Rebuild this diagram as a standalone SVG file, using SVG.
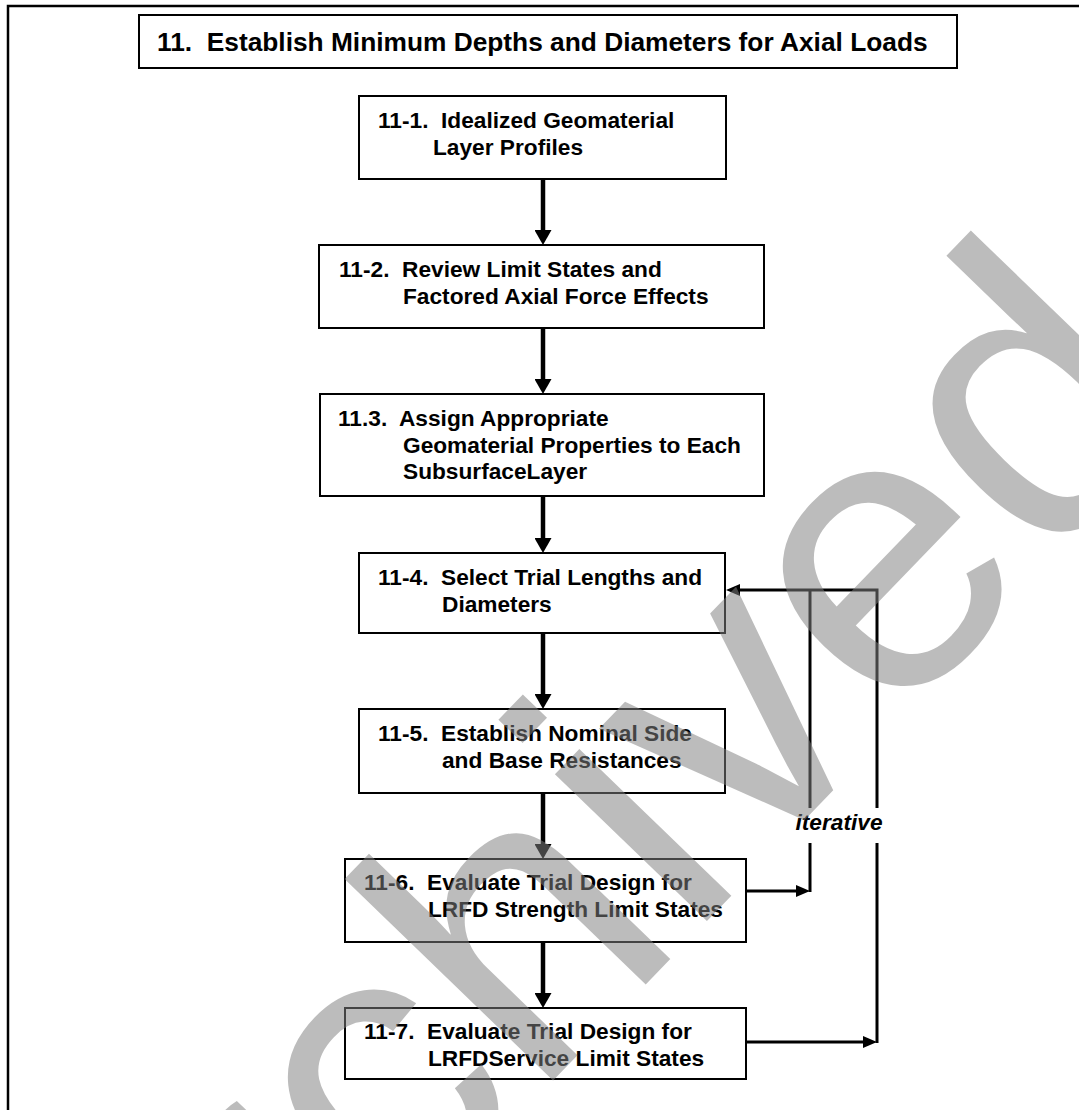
<svg xmlns="http://www.w3.org/2000/svg" width="1079" height="1110" viewBox="0 0 1079 1110" xml:space="preserve">
<style>
.box{fill:#fff;stroke:#000;stroke-width:2}
.t{font-family:"Liberation Sans",Arial,sans-serif;font-weight:bold;font-size:22.7px;fill:#000;white-space:pre}
.title{font-family:"Liberation Sans",Arial,sans-serif;font-weight:bold;font-size:26.3px;fill:#000;white-space:pre}
.lbl{font-family:"Liberation Sans",Arial,sans-serif;font-weight:bold;font-style:italic;font-size:22.7px;fill:#000;text-anchor:middle}
.main{fill:none;stroke:#000;stroke-width:4.5}
.fb{fill:none;stroke:#000;stroke-width:3}
.wm{font-family:"Liberation Sans",Arial,sans-serif;font-size:400px;fill:#808080;fill-opacity:0.53}
</style>
<defs>
<marker id="ah" viewBox="0 0 15 17" refX="3" refY="8.5" markerWidth="15" markerHeight="17" markerUnits="userSpaceOnUse" orient="auto">
<path d="M0,0 L15,8.5 L0,17 z" fill="#000"/>
</marker>
<marker id="ahs" viewBox="0 0 14 12" refX="3" refY="6" markerWidth="14" markerHeight="12" markerUnits="userSpaceOnUse" orient="auto">
<path d="M0,0 L14,6 L0,12 z" fill="#000"/>
</marker>
</defs>
<rect id="frame" x="8" y="6" width="1100" height="1130" fill="none" stroke="#000" stroke-width="2.5"/>
<g id="title">
<rect class="box" x="139" y="15" width="818" height="53"/>
<text class="title" x="157" y="51">11.  Establish Minimum Depths and Diameters for Axial Loads</text>
</g>
<g id="connectors">
<path class="main" d="M543,179 V233" marker-end="url(#ah)"/>
<path class="main" d="M543,328 V382" marker-end="url(#ah)"/>
<path class="main" d="M543,496 V541" marker-end="url(#ah)"/>
<path class="main" d="M543,633 V697" marker-end="url(#ah)"/>
<path class="main" d="M543,793 V847" marker-end="url(#ah)"/>
<path class="main" d="M543,942 V996" marker-end="url(#ah)"/>
<path class="fb" d="M746,891 H799" marker-end="url(#ahs)"/>
<path class="fb" d="M746,1042 H866" marker-end="url(#ahs)"/>
<path class="fb" d="M810,892 V843"/>
<path class="fb" d="M810,808 V590"/>
<path class="fb" d="M877,1043 V843"/>
<path class="fb" d="M877,808 V590 H737" marker-end="url(#ahs)"/>
<text class="lbl" x="839" y="830">iterative</text>
</g>
<g id="n11-1">
<rect class="box" x="359" y="96" width="367" height="83"/>
<text class="t" x="378" y="128">11-1.  Idealized Geomaterial</text>
<text class="t" x="433" y="155">Layer Profiles</text>
</g>
<g id="n11-2">
<rect class="box" x="319" y="245" width="445" height="83"/>
<text class="t" x="339" y="277">11-2.  Review Limit States and</text>
<text class="t" x="403" y="304">Factored Axial Force Effects</text>
</g>
<g id="n11-3">
<rect class="box" x="320" y="394" width="444" height="102"/>
<text class="t" x="338" y="426">11.3.  Assign Appropriate</text>
<text class="t" x="403" y="452.5">Geomaterial Properties to Each</text>
<text class="t" x="403" y="479">SubsurfaceLayer</text>
</g>
<g id="n11-4">
<rect class="box" x="359" y="553" width="366" height="80"/>
<text class="t" x="378" y="585">11-4.  Select Trial Lengths and</text>
<text class="t" x="442" y="612">Diameters</text>
</g>
<g id="n11-5">
<rect class="box" x="359" y="709" width="366" height="84"/>
<text class="t" x="378" y="741">11-5.  Establish Nominal Side</text>
<text class="t" x="442" y="768">and Base Resistances</text>
</g>
<g id="n11-6">
<rect class="box" x="345" y="859" width="401" height="83"/>
<text class="t" x="364" y="890">11-6.  Evaluate Trial Design for</text>
<text class="t" x="428" y="917">LRFD Strength Limit States</text>
</g>
<g id="n11-7">
<rect class="box" x="345" y="1008" width="401" height="71"/>
<text class="t" x="364" y="1039">11-7.  Evaluate Trial Design for</text>
<text class="t" x="428" y="1066">LRFDService Limit States</text>
</g>
<text class="wm" x="117" y="1532" transform="rotate(-46 117 1532)">Archived</text>
</svg>
